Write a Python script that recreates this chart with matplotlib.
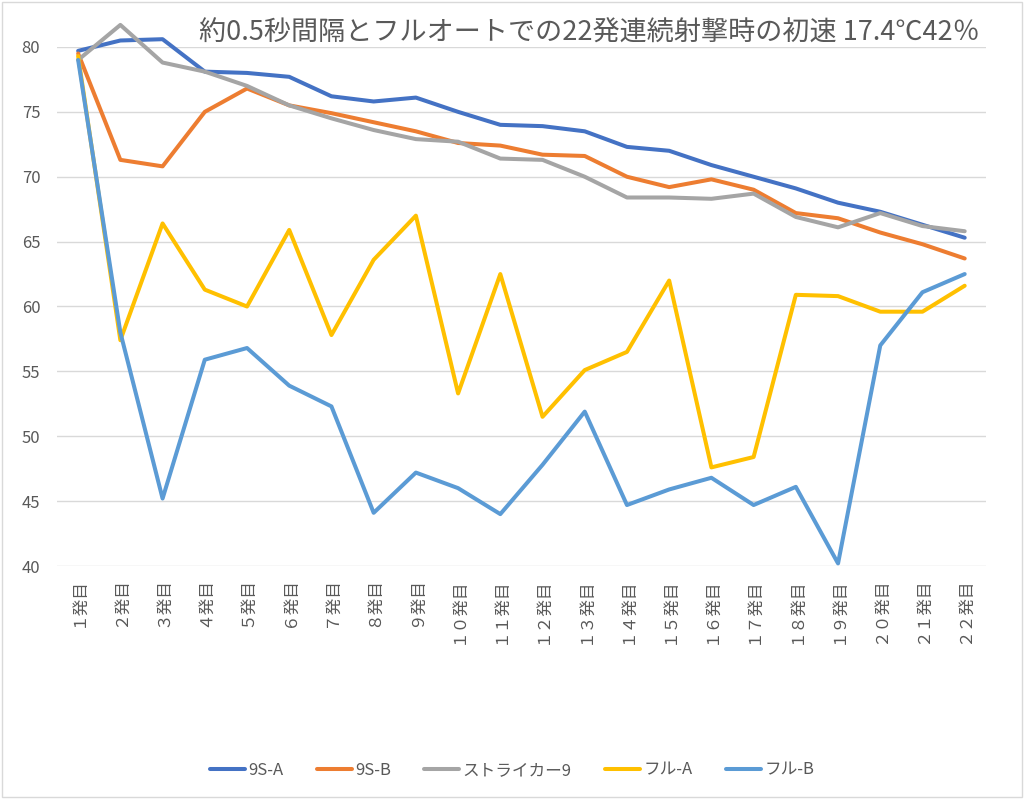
import matplotlib
matplotlib.use("Agg")
import matplotlib.pyplot as plt
from matplotlib.patches import Rectangle

plt.rcParams['font.family'] = ['Noto Sans CJK JP', 'DejaVu Sans']

# データ
labels = ["１発目", "２発目", "３発目", "４発目", "５発目", "６発目", "７発目", "８発目",
          "９発目", "１０発目", "１１発目", "１２発目", "１３発目", "１４発目", "１５発目",
          "１６発目", "１７発目", "１８発目", "１９発目", "２０発目", "２１発目", "２２発目"]

s9_a = [79.7, 80.5, 80.6, 78.1, 78.0, 77.7, 76.2, 75.8, 76.1, 75.0, 74.0,
        73.9, 73.5, 72.3, 72.0, 70.9, 70.0, 69.1, 68.0, 67.3, 66.3, 65.3]
s9_b = [79.5, 71.3, 70.8, 75.0, 76.8, 75.5, 74.9, 74.2, 73.5, 72.6, 72.4,
        71.7, 71.6, 70.0, 69.2, 69.8, 69.0, 67.2, 66.8, 65.7, 64.8, 63.7]
striker9 = [79.0, 81.7, 78.8, 78.1, 77.0, 75.5, 74.5, 73.6, 72.9, 72.7, 71.4,
            71.3, 70.0, 68.4, 68.4, 68.3, 68.7, 66.9, 66.1, 67.2, 66.2, 65.8]
full_a = [79.3, 57.4, 66.4, 61.3, 60.0, 65.9, 57.8, 63.6, 67.0, 53.3, 62.5,
          51.5, 55.1, 56.5, 62.0, 47.6, 48.4, 60.9, 60.8, 59.6, 59.6, 61.6]
full_b = [79.0, 58.0, 45.2, 55.9, 56.8, 53.9, 52.3, 44.1, 47.2, 46.0, 44.0,
          47.8, 51.9, 44.7, 45.9, 46.8, 44.7, 46.1, 40.2, 57.0, 61.1, 62.5]

series = [
    ("9S-A", s9_a, "#4472C4"),
    ("9S-B", s9_b, "#ED7D31"),
    ("ストライカー9", striker9, "#A5A5A5"),
    ("フル-A", full_a, "#FFC000"),
    ("フル-B", full_b, "#5B9BD5"),
]

fig = plt.figure(figsize=(10.24, 7.99), dpi=100)
ax = fig.add_axes([0.0557, 0.2916, 0.907, 0.6496])

x = list(range(len(labels)))
for name, vals, col in series:
    ax.plot(x, vals, color=col, lw=2.9, label=name, clip_on=False,
            solid_joinstyle="round", solid_capstyle="round")

ax.set_xlim(-0.5, len(labels) - 0.5)
ax.set_ylim(40, 80)
ax.set_yticks(range(40, 81, 5))
ax.grid(axis="y", color="#D9D9D9", lw=1)
ax.set_axisbelow(True)
for sp in ax.spines.values():
    sp.set_visible(False)

ax.set_xticks(x)
ax.set_xticklabels(labels, rotation=90, ha="center", va="top")
ax.tick_params(axis="both", length=0, colors="#595959", labelsize=12)
ax.tick_params(axis="x", pad=8)
ax.tick_params(axis="y", pad=12)

# タイトル
fig.text(0.957, 0.958, "約0.5秒間隔とフルオートでの22発連続射撃時の初速 17.4℃42％",
         ha="right", va="center", fontsize=19.5, color="#595959")

# 凡例
fig.legend(loc="center", bbox_to_anchor=(0.5, 0.036), ncol=5, frameon=False,
           fontsize=12, handlelength=2.1, handletextpad=0.2, columnspacing=2.0,
           labelcolor="#595959")

# 枠線
fig.patches.append(Rectangle((0.002, 0.002), 0.996, 0.996, transform=fig.transFigure,
                             fill=False, edgecolor="#D9D9D9", lw=1))

fig.savefig("out.png", dpi=100)
